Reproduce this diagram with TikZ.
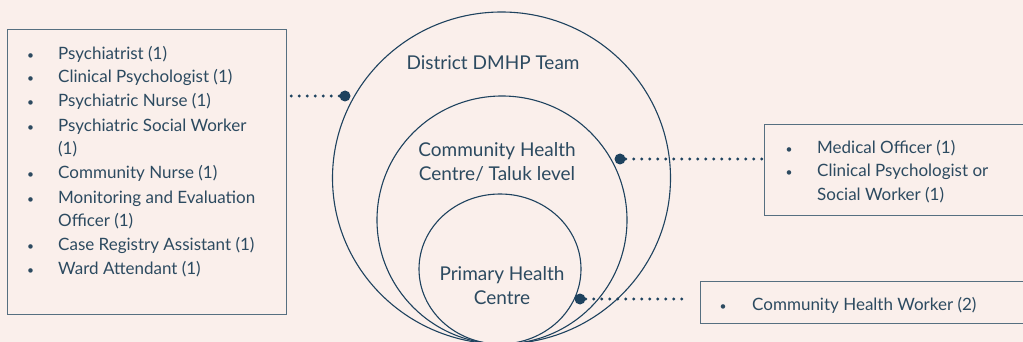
\documentclass[tikz,border=0pt]{standalone}
\usepackage{fontspec}
\setmainfont{Lato}
\usetikzlibrary{shapes.geometric, positioning}
\definecolor{bgpink}{HTML}{FAEFEB}
\definecolor{inkblue}{HTML}{1E425E}
\definecolor{textblue}{HTML}{2C4A60}
\definecolor{boxgrey}{HTML}{566F80}
\newcommand{\bul}{{\fontsize{12}{24}\selectfont •}}

\begin{document}
\begin{tikzpicture}[x=1pt,y=-1pt,
    ring/.style={draw=inkblue, line width=1.1pt, ellipse, inner sep=0pt},
    staffbox/.style={draw=boxgrey, line width=1.3pt, anchor=north west, inner sep=0pt},
    stafflist/.style={anchor=north west, inner sep=0pt, text=textblue,
        font=\fontsize{17}{24}\selectfont},
    levellabel/.style={align=center, text=textblue, inner sep=0pt,
        font=\fontsize{19}{24}\selectfont},
    bigdot/.style={circle, fill=inkblue, inner sep=0pt, minimum size=11pt},
    dotline/.style={draw=inkblue, line width=3.3pt, line cap=round,
        dash pattern=on 0pt off 8pt}
  ]

    % Background and page size
    \fill[bgpink] (0,0) rectangle (1023,342);
    \useasboundingbox (0,0) rectangle (1023,342);

    % Nested levels
    \node[ring, minimum width=338pt, minimum height=332pt] (district) at (501.5,178) {};
    \node[ring, minimum width=250pt, minimum height=248pt] (chc) at (502,220) {};
    \node[ring, minimum width=162pt, minimum height=150pt] (phc) at (500,269) {};

    \node[levellabel] (districtlabel) at (493,63) {District DMHP Team};
    \node[levellabel] (chclabel) at (497,162) {Community Health\\Centre/ Taluk level};
    \node[levellabel] (phclabel) at (502,286) {Primary Health\\Centre};

    % Staff lists
    \node[staffbox, minimum width=279pt, minimum height=285pt] (districtbox) at (7,29) {};
    \node[stafflist] (districtlist) at (27,42) {%
        \begin{tabular}{@{}p{31pt}@{}l@{}}
            \bul & Psychiatrist (1)\\
            \bul & Clinical Psychologist (1)\\
            \bul & Psychiatric Nurse (1)\\
            \bul & Psychiatric Social Worker\\
                 & (1)\\
            \bul & Community Nurse (1)\\
            \bul & Monitoring and Evaluation\\
                 & Officer (1)\\
            \bul & Case Registry Assistant (1)\\
            \bul & Ward Attendant (1)
        \end{tabular}};

    \node[staffbox, minimum width=270pt, minimum height=91pt] (chcbox) at (764,124) {};
    \node[stafflist] (chclist) at (785.5,136) {%
        \begin{tabular}{@{}p{31.5pt}@{}l@{}}
            \bul & Medical Officer (1)\\
            \bul & Clinical Psychologist or\\
                 & Social Worker (1)
        \end{tabular}};

    \node[staffbox, minimum width=335pt, minimum height=42pt] (phcbox) at (700,281) {};
    \node[stafflist] (phclist) at (719.5,293) {%
        \begin{tabular}{@{}p{32.5pt}@{}l@{}}
            \bul & Community Health Worker (2)
        \end{tabular}};

    % Connectors
    \node[bigdot] (districtdot) at (345,96) {};
    \node[bigdot] (chcdot) at (620,159) {};
    \node[bigdot] (phcdot) at (580,299) {};
    \coordinate (phcend) at (684,299);

    \draw[dotline] (districtdot) -- (districtdot -| districtbox.east);
    \draw[dotline] (chcdot) -- (chcdot -| chcbox.west);
    \draw[dotline] (phcdot) -- (phcend);

\end{tikzpicture}
\end{document}
